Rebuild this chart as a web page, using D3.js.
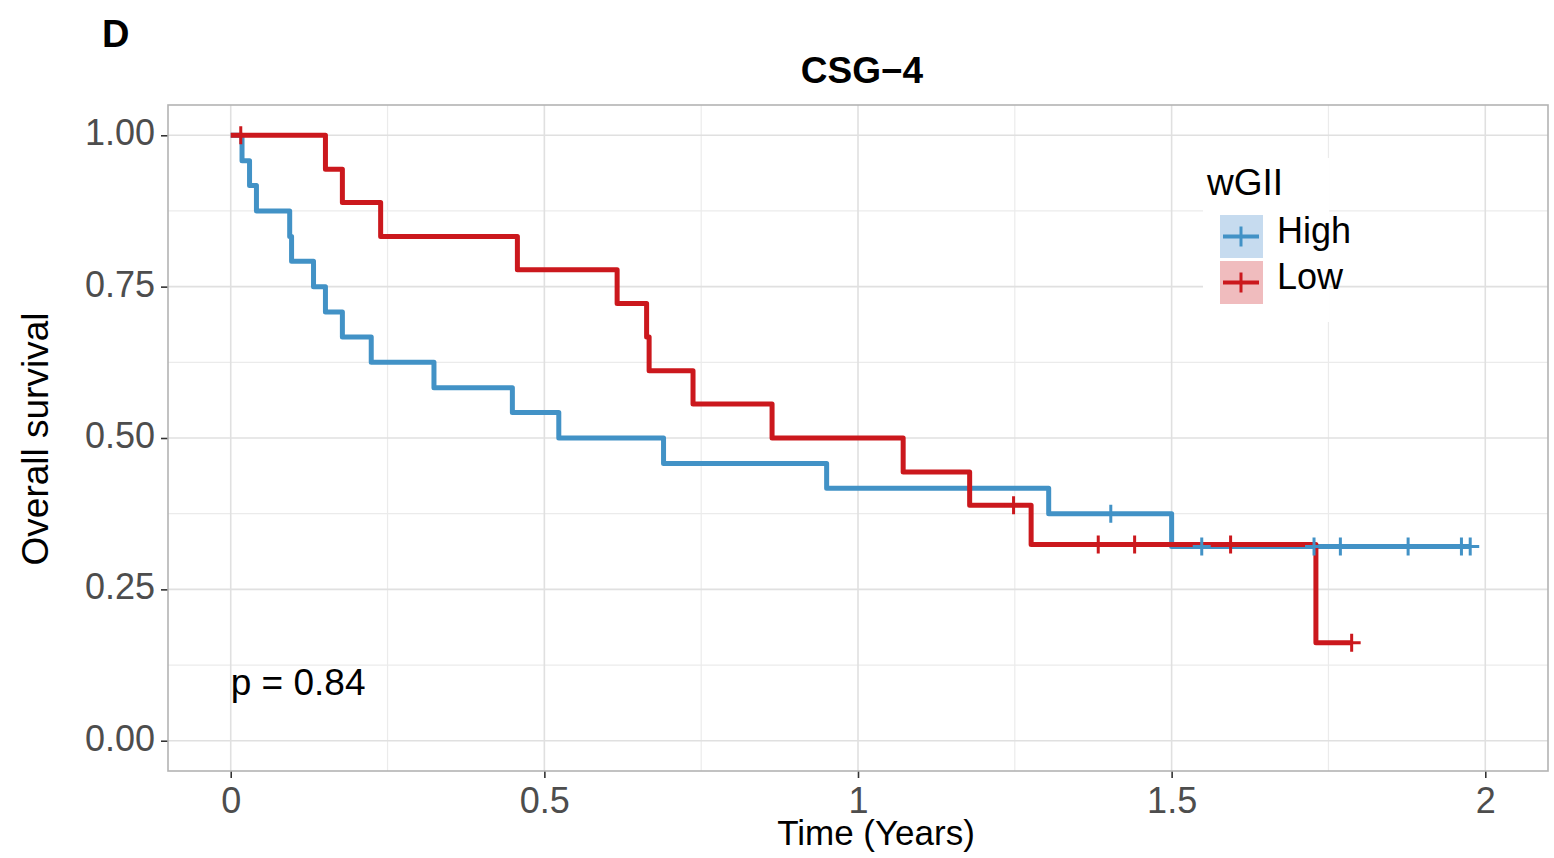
<!DOCTYPE html>
<html>
<head>
<meta charset="utf-8">
<script src="https://cdn.jsdelivr.net/npm/d3@7"></script>
<style>
  html, body { margin: 0; padding: 0; background: #fff; }
  svg { display: block; font-family: "Liberation Sans", Arial, Helvetica, sans-serif; }
</style>
</head>
<body>
<svg id="chart" width="1554" height="858"></svg>
<script>
// ---- data ----
const groups = ["High", "Low"];
const groupColors = ["#4292c6", "#cb181d"];
const legendFills = ["#c6dbef", "#f0bcbe"];

const highTime = [0, 0.018, 0.030, 0.041, 0.094, 0.097, 0.132, 0.151, 0.178, 0.224, 0.324, 0.449, 0.523, 0.690, 0.950, 1.304, 1.500, 1.976];
const highSurv = [1, 0.958, 0.917, 0.875, 0.833, 0.792, 0.750, 0.708, 0.667, 0.625, 0.583, 0.542, 0.500, 0.458, 0.417, 0.375, 0.321, 0.321];
const highCensor = [1.403, 1.548, 1.727, 1.769, 1.877, 1.962, 1.976];

const lowTime = [0, 0.151, 0.178, 0.239, 0.457, 0.616, 0.663, 0.667, 0.737, 0.863, 1.072, 1.178, 1.276, 1.730, 1.787];
const lowSurv = [1, 0.944, 0.889, 0.833, 0.778, 0.722, 0.667, 0.611, 0.556, 0.500, 0.444, 0.389, 0.324, 0.162, 0.162];
const lowCensor = [0.016, 1.248, 1.383, 1.441, 1.594, 1.787];

const xTicks = [0, 0.5, 1, 1.5, 2];
const xTickLabels = ["0", "0.5", "1", "1.5", "2"];
const yTicks = [0, 0.25, 0.5, 0.75, 1];
const yTickLabels = ["0.00", "0.25", "0.50", "0.75", "1.00"];
const xMinor = [0.25, 0.75, 1.25, 1.75];
const yMinor = [0.125, 0.375, 0.625, 0.875];

const panelLabel = "D";
const title = "CSG\u22124";
const xTitle = "Time (Years)";
const yTitle = "Overall survival";
const legendTitle = "wGII";
const pText = "p = 0.84";

// ---- layout ----
const svg = d3.select("#chart");
const L = 168, R = 1548, T = 105, B = 771;
const x = d3.scaleLinear().domain([-0.1, 2.1]).range([L, R]);
const y = d3.scaleLinear().domain([-0.05, 1.05]).range([B, T]);

// grid
const g = svg.append("g");
g.selectAll(".xminor").data(xMinor).join("line")
  .attr("x1", d => x(d)).attr("x2", d => x(d)).attr("y1", T).attr("y2", B)
  .attr("stroke", "#ebebeb").attr("stroke-width", 1.2);
g.selectAll(".yminor").data(yMinor).join("line")
  .attr("y1", d => y(d)).attr("y2", d => y(d)).attr("x1", L).attr("x2", R)
  .attr("stroke", "#ebebeb").attr("stroke-width", 1.2);
g.selectAll(".xmajor").data(xTicks).join("line")
  .attr("x1", d => x(d)).attr("x2", d => x(d)).attr("y1", T).attr("y2", B)
  .attr("stroke", "#e0e0e0").attr("stroke-width", 1.6);
g.selectAll(".ymajor").data(yTicks).join("line")
  .attr("y1", d => y(d)).attr("y2", d => y(d)).attr("x1", L).attr("x2", R)
  .attr("stroke", "#e0e0e0").attr("stroke-width", 1.6);

// axes
const xAxis = d3.axisBottom(x).tickValues(xTicks).tickFormat((d, i) => xTickLabels[i]).tickSize(7).tickPadding(6);
const yAxis = d3.axisLeft(y).tickValues(yTicks).tickFormat((d, i) => yTickLabels[i]).tickSize(7).tickPadding(6);
const gx = svg.append("g").attr("transform", `translate(0,${B})`).call(xAxis);
const gy = svg.append("g").attr("transform", `translate(${L},0)`).call(yAxis);
[gx, gy].forEach(a => {
  a.select(".domain").remove();
  a.selectAll(".tick line").attr("stroke", "#333").attr("stroke-width", 1.6);
  a.selectAll(".tick text").attr("fill", "#4d4d4d").style("font-size", "36px");
});
gx.selectAll(".tick text").attr("dy", "0.8em");
gy.selectAll(".tick text").attr("dy", "0.26em");

// curves
const line = d3.line().x(d => x(d[0])).y(d => y(d[1])).curve(d3.curveStepAfter);
const series = [
  { t: highTime, s: highSurv, c: highCensor },
  { t: lowTime, s: lowSurv, c: lowCensor }
];
const plotG = svg.append("g");
series.forEach((sr, i) => {
  const pts = sr.t.map((t, k) => [t, sr.s[k]]);
  plotG.append("path").datum(pts).attr("d", line)
    .attr("fill", "none").attr("stroke", groupColors[i]).attr("stroke-width", 5)
    .attr("stroke-linejoin", "round").attr("stroke-linecap", "butt");
});
function survAt(sr, t) {
  let v = sr.s[0];
  for (let k = 0; k < sr.t.length; k++) if (sr.t[k] <= t) v = sr.s[k];
  return v;
}
const cs = 9;
series.forEach((sr, i) => {
  sr.c.forEach(t => {
    const cx = x(t), cy = y(survAt(sr, t));
    plotG.append("path")
      .attr("d", `M${cx - cs},${cy}H${cx + cs}M${cx},${cy - cs}V${cy + cs}`)
      .attr("stroke", groupColors[i]).attr("stroke-width", 3).attr("fill", "none");
  });
});

// panel border
svg.append("rect").attr("x", L).attr("y", T).attr("width", R - L).attr("height", B - T)
  .attr("fill", "none").attr("stroke", "#b3b3b3").attr("stroke-width", 1.6);

// p value
svg.append("text").attr("x", x(0)).attr("y", 695).text(pText)
  .style("font-size", "37px").attr("fill", "#000");

// legend
const lg = svg.append("g");
lg.append("rect").attr("x", 1203).attr("y", 158).attr("width", 126).attr("height", 164).attr("fill", "#fff");
lg.append("text").attr("x", 1207).attr("y", 195).text(legendTitle).style("font-size", "37px").attr("fill", "#000");
groups.forEach((gname, i) => {
  const ky = 215 + i * 46;
  lg.append("rect").attr("x", 1220).attr("y", ky).attr("width", 43).attr("height", 43).attr("fill", legendFills[i]);
  const cy = ky + 21.5, cx = 1241;
  lg.append("line").attr("x1", 1223).attr("x2", 1259).attr("y1", cy).attr("y2", cy)
    .attr("stroke", groupColors[i]).attr("stroke-width", 4);
  lg.append("line").attr("x1", cx).attr("x2", cx).attr("y1", cy - 10).attr("y2", cy + 10)
    .attr("stroke", groupColors[i]).attr("stroke-width", 3);
  lg.append("text").attr("x", 1277).attr("y", ky + 28).text(gname).style("font-size", "36px").attr("fill", "#000");
});

// titles
svg.append("text").attr("x", 862).attr("y", 83).attr("text-anchor", "middle")
  .style("font-size", "37px").style("font-weight", "bold").text(title);
svg.append("text").attr("x", 102).attr("y", 47)
  .style("font-size", "38px").style("font-weight", "bold").text(panelLabel);
svg.append("text").attr("x", 876).attr("y", 845).attr("text-anchor", "middle")
  .style("font-size", "35px").text(xTitle);
svg.append("text").attr("transform", `translate(48,439) rotate(-90)`).attr("text-anchor", "middle")
  .style("font-size", "37px").text(yTitle);
</script>
</body>
</html>
